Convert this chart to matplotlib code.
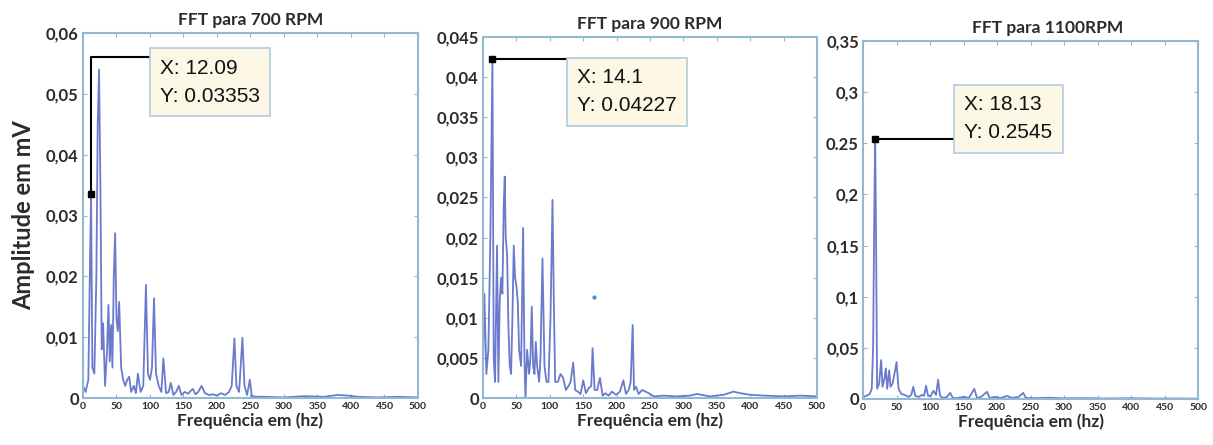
import numpy as np
import matplotlib
matplotlib.use('Agg')
import matplotlib.pyplot as plt

# 700 RPM
f700 = [0, 4, 8, 11, 12.09, 14, 17, 20, 22, 24, 26, 28, 30, 33, 36, 38, 40, 42, 44, 46,
        48, 50, 52, 54, 57, 60, 63, 66, 69, 72, 76, 79, 82, 86, 90, 94, 97, 100, 103, 106,
        109, 113, 117, 120, 124, 128, 131, 135, 139, 143, 147, 152, 157, 161, 164, 168, 172,
        177, 182, 188, 194, 200, 206, 212, 218, 222, 226, 229, 233, 238, 241, 245, 249, 252,
        260, 270, 300, 330, 360, 380, 395, 410, 440, 470, 500]
a700 = [0.002, 0.001, 0.003, 0.026, 0.03353, 0.005, 0.004, 0.02, 0.045, 0.054, 0.035, 0.008,
        0.0123, 0.002, 0.008, 0.0153, 0.006, 0.012, 0.005, 0.02, 0.0271, 0.013, 0.011, 0.0158,
        0.005, 0.003, 0.002, 0.003, 0.0035, 0.001, 0.002, 0.0008, 0.004, 0.001, 0.002, 0.0186,
        0.004, 0.003, 0.005, 0.0164, 0.004, 0.002, 0.001, 0.0065, 0.0008, 0.001, 0.0025, 0.0005,
        0.001, 0.002, 0.0005, 0.001, 0.0007, 0.0012, 0.0015, 0.0006, 0.001, 0.002, 0.0008,
        0.0005, 0.0006, 0.0004, 0.0008, 0.0005, 0.001, 0.002, 0.0098, 0.002, 0.001, 0.0099,
        0.002, 0.0005, 0.003, 0.0003, 0.0002, 0.0002, 0.0001, 0.0003, 0.0002, 0.0005, 0.0004,
        0.0002, 0.0001, 0.0002, 0.0001]

# 900 RPM
f900 = [0, 2, 5, 8, 11, 14.1, 16, 18, 21, 23, 25, 27, 29, 31, 32.5, 34, 36, 38, 40, 42, 44,
        46, 48, 50, 52, 54, 57, 60, 62, 63.5, 66, 69, 71, 73, 75, 77, 79, 81, 84, 86, 89, 92,
        95, 98, 101, 104, 106, 108, 112, 116, 120, 124, 128, 131, 135, 138, 142, 146, 150, 154,
        158, 162, 164, 167, 171, 175, 179, 183, 188, 193, 199, 205, 210, 214, 218, 221, 224,
        226, 229, 233, 238, 243, 248, 256, 270, 290, 310, 320, 340, 360, 375, 385, 400, 420,
        450, 475, 500]
a900 = [0.004, 0.013, 0.003, 0.006, 0.02, 0.04227, 0.005, 0.002, 0.019, 0.002, 0.012, 0.015,
        0.013, 0.024, 0.0276, 0.02, 0.018, 0.009, 0.004, 0.003, 0.01, 0.019, 0.015, 0.014, 0.012,
        0.006, 0.004, 0.0212, 0.005, 0.0, 0.006, 0.003, 0.005, 0.0114, 0.004, 0.003, 0.007,
        0.004, 0.002, 0.005, 0.0174, 0.004, 0.002, 0.002, 0.01, 0.0247, 0.012, 0.002, 0.002,
        0.003, 0.0025, 0.001, 0.0015, 0.002, 0.0044, 0.001, 0.0008, 0.0005, 0.0022, 0.0006,
        0.0012, 0.0015, 0.0062, 0.001, 0.001, 0.0025, 0.0003, 0.0006, 0.0003, 0.0008, 0.0004,
        0.0008, 0.0022, 0.0005, 0.001, 0.002, 0.0091, 0.001, 0.0014, 0.0005, 0.001, 0.0008,
        0.0006, 0.0002, 0.0003, 0.0002, 0.0003, 0.0005, 0.0002, 0.0004, 0.0008, 0.0006, 0.0004,
        0.0003, 0.0002, 0.0003, 0.0002]
stray900 = (166, 0.0126)

# 1100 RPM
f1100 = [0, 5, 10, 13, 15, 17, 18.13, 19.5, 21, 24, 27, 29, 32, 34, 36, 39, 41, 44, 47, 50,
         53, 57, 62, 68, 72, 75, 78, 83, 88, 91, 94, 97, 101, 105, 109, 112, 115, 120, 125,
         130, 134, 140, 150, 158, 166, 170, 176, 185, 189, 196, 205, 215, 222, 232, 239, 243,
         255, 280, 300, 330, 360, 400, 440, 470, 500]
a1100 = [0.002, 0.003, 0.005, 0.01, 0.05, 0.2, 0.2545, 0.15, 0.01, 0.015, 0.038, 0.012, 0.02,
         0.03, 0.01, 0.028, 0.012, 0.015, 0.025, 0.036, 0.01, 0.005, 0.004, 0.002, 0.004, 0.012,
         0.003, 0.002, 0.004, 0.003, 0.013, 0.003, 0.003, 0.008, 0.004, 0.019, 0.003, 0.001,
         0.002, 0.006, 0.001, 0.0008, 0.002, 0.001, 0.01, 0.001, 0.002, 0.007, 0.001, 0.002,
         0.001, 0.003, 0.001, 0.002, 0.006, 0.001, 0.0008, 0.0012, 0.0006, 0.0008, 0.0005,
         0.0007, 0.0004, 0.0005, 0.0003]

titles = ['FFT para 700 RPM', 'FFT para 900 RPM', 'FFT para 1100RPM']
yticks = [[0, 0.01, 0.02, 0.03, 0.04, 0.05, 0.06],
          [0, 0.005, 0.01, 0.015, 0.02, 0.025, 0.03, 0.035, 0.04, 0.045],
          [0, 0.05, 0.1, 0.15, 0.2, 0.25, 0.3, 0.35]]
ylabels = [['0', '0,01', '0,02', '0,03', '0,04', '0,05', '0,06'],
           ['0', '0,005', '0,01', '0,015', '0,02', '0,025', '0,03', '0,035', '0,04', '0,045'],
           ['0', '0,05', '0,1', '0,15', '0,2', '0.25', '0,3', '0,35']]
xticks = list(range(0, 501, 50))
tips = [(12.09, 0.03353), (14.1, 0.04227), (18.13, 0.2545)]

# layout: axes rects, datatip line level and text corner (data units)
rects = [[0.0684, 0.1056, 0.2762, 0.8202],
         [0.3982, 0.1056, 0.2754, 0.8113],
         [0.7115, 0.1034, 0.2762, 0.8045]]
tip_line_y = [0.0561, 0.04227, 0.2545]
text_x = [115, 141, 151]
text_top = [0.0558, 0.0411, 0.297]
title_x = [0.5, 0.5, 0.55]

fig = plt.figure(figsize=(12.13, 4.45), dpi=100)
fig.patch.set_facecolor('white')

data = [(f700, a700), (f900, a900), (f1100, a1100)]
tcol = '#2e2a28'
spc = '#94b8d2'
for i, (f, a) in enumerate(data):
    ax = fig.add_axes(rects[i])
    ax.plot(f, a, color='#5a6cc8', lw=1.3, alpha=0.9)
    if i == 1:
        ax.plot(*stray900, 'o', color='#3d8fd6', ms=2)
    ax.set_xlim(0, 500)
    ax.set_ylim(0, yticks[i][-1])
    ax.set_xticks(xticks)
    ax.set_xticklabels([str(v) for v in xticks], fontsize=7.5, fontweight='bold',
                       family='Lato', color=tcol)
    ax.set_yticks(yticks[i])
    ax.set_yticklabels(ylabels[i], fontsize=12, fontweight='bold', family='Lato', color=tcol)
    ax.tick_params(direction='in', top=True, right=True, length=3, width=0.8,
                   colors=spc, labelcolor=tcol, pad=3)
    for s in ax.spines.values():
        s.set_color(spc)
        s.set_linewidth(1.5)
    ax.set_title(titles[i], fontsize=12.5, fontweight='bold', family='Lato', color=tcol,
                 pad=6, x=title_x[i])
    ax.set_xlabel('Frequência em (hz)', fontsize=12.5, fontweight='bold', family='Lato',
                  color=tcol, labelpad=1)
    if i == 0:
        ax.set_ylabel('Amplitude em mV', fontsize=17, fontweight='bold', family='Lato',
                      color=tcol, labelpad=8)

    # datatip
    tx, ty = tips[i]
    ax.plot([tx, tx, text_x[i]], [ty, tip_line_y[i], tip_line_y[i]], color='black', lw=1.5,
            zorder=4)
    ax.plot(tx, ty, 's', color='black', ms=4, zorder=5)
    ax.text(text_x[i], text_top[i], 'X: %s\nY: %s' % (f'{tx:g}', f'{ty:g}'),
            ha='left', va='top', fontsize=15, family='Liberation Sans', color='#111111',
            linespacing=1.6, zorder=6,
            bbox=dict(boxstyle='square,pad=0.5', fc='#fdf8e6', ec='#b0cce0', lw=1.2))

fig.savefig('out.png', dpi=100)
